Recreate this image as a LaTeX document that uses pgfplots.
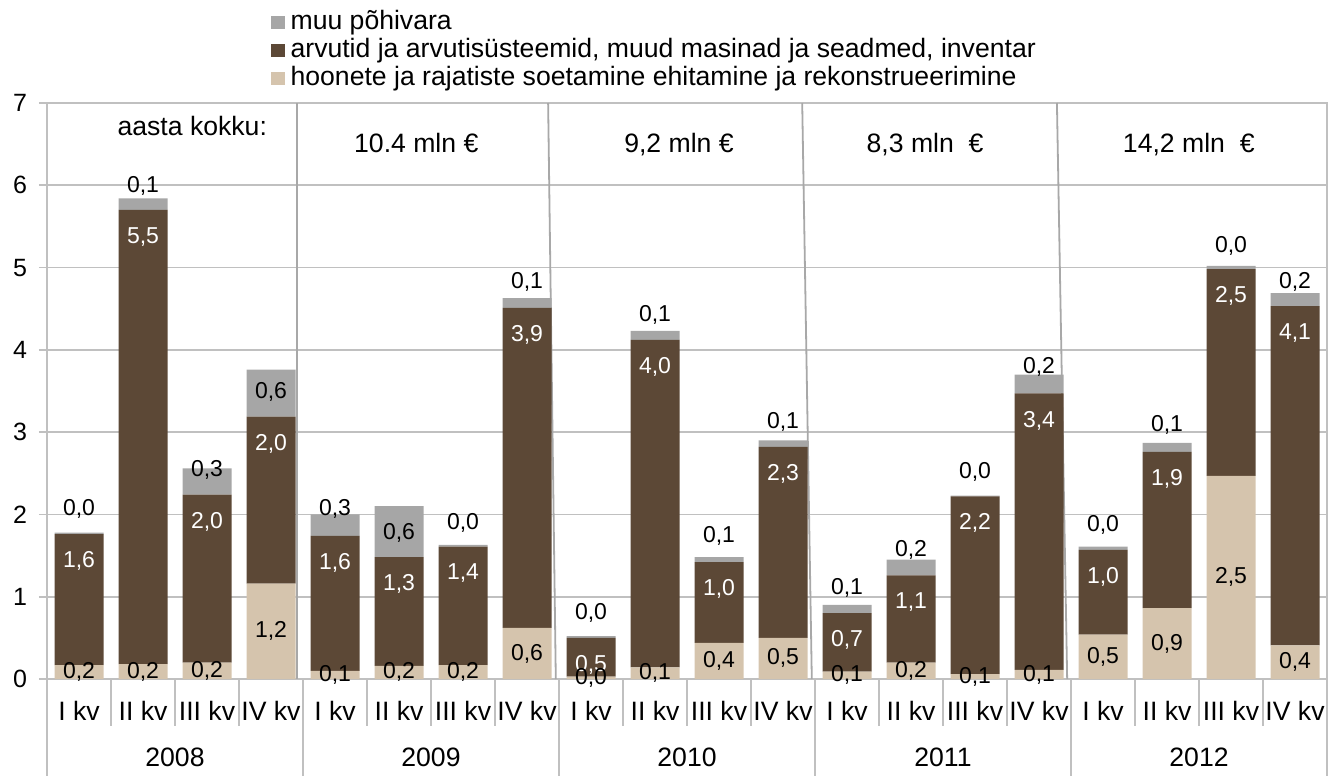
\documentclass[border=0pt]{standalone}
\usepackage{pgfplots}
\pgfplotsset{compat=1.18}
\usepackage{pgfplotstable}
\usepackage{fontspec}
\setmainfont{Liberation Sans}
\definecolor{cbeige}{HTML}{D5C4AD}
\definecolor{cbrown}{HTML}{5C4836}
\definecolor{cgray}{HTML}{A6A6A6}
\definecolor{cgrid}{HTML}{C0C0C0}
\definecolor{cline}{HTML}{A8A8A8}
\newcommand\fA{\fontsize{13.3}{16}\selectfont}
\newcommand\fT{\fontsize{12.5}{15}\selectfont}
\newcommand\fL{\fontsize{11.5}{13}\selectfont}

% x: category, b: hoonete..., r: arvutid..., g: muu pohivara, gs: label offset of g above its top (pt)
\pgfplotstableread{
x b r g gs
0 0.17 1.59 0.02 12
1 0.18 5.52 0.14 6.5
2 0.20 2.04 0.32 -1
3 1.16 2.03 0.57 -11
4 0.10 1.64 0.26 2.5
5 0.16 1.32 0.62 -13.5
6 0.17 1.44 0.02 11
7 0.62 3.89 0.12 8
8 0.03 0.47 0.02 11.5
9 0.14 3.98 0.11 8
10 0.44 0.98 0.06 10.5
11 0.50 2.32 0.08 9
12 0.09 0.71 0.10 8.5
13 0.20 1.06 0.19 5
14 0.06 2.16 0.01 12
15 0.11 3.36 0.23 4
16 0.54 1.03 0.04 11
17 0.86 1.90 0.11 9
18 2.47 2.51 0.04 10
19 0.41 4.12 0.16 5.5
}\data

\begin{document}
\begin{tikzpicture}
\begin{axis}[
  scale only axis, width=640pt, height=288pt,
  xmin=-0.5, xmax=19.5, ymin=0, ymax=7,
  clip=false,
  ybar stacked, bar width=24.5pt,
  axis line style={cgrid, line width=0.9pt},
  ymajorgrids, grid style={cgrid, line width=0.9pt},
  ytick={0,...,7}, ytick pos=left, tick align=outside, major tick length=4pt,
  every tick/.style={cgrid, line width=0.9pt},
  xtick={0,...,19}, xtick pos=bottom,
  every major x tick/.append style={draw=none},
  xticklabels={I kv,II kv,III kv,IV kv,I kv,II kv,III kv,IV kv,I kv,II kv,III kv,IV kv,I kv,II kv,III kv,IV kv,I kv,II kv,III kv,IV kv},
  xticklabel style={font=\fA, anchor=base, yshift=-16.75pt},
  yticklabel style={font=\fT, xshift=-2.5pt},
  /pgf/number format/assume math mode=true,
  legend image code/.code={\fill[#1] (0pt,-3.3pt) rectangle (6.6pt,3.3pt);},
  reverse legend,
  legend style={at={(0.175,1.165)}, anchor=north west, draw=none, fill=none,
    inner sep=0pt, row sep=0pt, column sep=2.5pt, font=\fA,
    nodes={inner sep=0.5pt, text height=10pt, text depth=3pt}},
  legend cell align=left,
  nodes near coords={\pgfmathprintnumber[fixed,fixed zerofill,precision=1,use comma]{\pgfplotspointmeta}},
]
\addplot[fill=cbeige, draw=none,
  every node near coord/.append style={anchor=center, font=\fL, text=black, inner sep=0pt}]
  table[x=x, y=b, meta=b] {\data};
\addlegendentry{hoonete ja rajatiste soetamine ehitamine ja rekonstrueerimine}
\addplot[fill=cbrown, draw=none,
  visualization depends on={\thisrow{r} \as \rval},
  every node near coord/.append style={anchor=center, yshift={20.571pt*\rval-13.5pt}, font=\fL, text=white, inner sep=0pt}]
  table[x=x, y=r, meta=r] {\data};
\addlegendentry{arvutid ja arvutisüsteemid, muud masinad ja seadmed, inventar}
\addplot[fill=cgray, draw=none,
  visualization depends on={\thisrow{gs} \as \gsh},
  visualization depends on={\thisrow{g} \as \gval},
  every node near coord/.append style={anchor=center, yshift={20.571pt*\gval+\gsh*1pt}, font=\fL, text=black, inner sep=0pt}]
  table[x=x, y=g, meta=g] {\data};
\addlegendentry{muu põhivara}

% year dividers inside the plot
\draw[cline, line width=0.9pt] (axis cs:3.41,7) -- (axis cs:3.41,0);
\draw[cline, line width=0.9pt] (axis cs:7.33,7) -- (axis cs:7.45,0);
\draw[cline, line width=0.9pt] (axis cs:11.30,7) -- (axis cs:11.45,0);
\draw[cline, line width=0.9pt] (axis cs:15.28,7) -- (axis cs:15.44,0);

% category separators below the axis
\pgfplotsinvokeforeach{0.5,1.5,2.5,4.5,5.5,6.5,8.5,9.5,10.5,12.5,13.5,14.5,16.5,17.5,18.5}{
  \draw[cgrid, line width=0.9pt] (axis cs:#1,0) -- ++(0pt,-23.5pt);
}
\pgfplotsinvokeforeach{-0.5,3.5,7.5,11.5,15.5,19.5}{
  \draw[cgrid, line width=0.9pt] (axis cs:#1,0) -- ++(0pt,-48.5pt);
}

% year labels
\node[font=\fA, anchor=base, yshift=-43.75pt] at (axis cs:1.5,0) {2008};
\node[font=\fA, anchor=base, yshift=-43.75pt] at (axis cs:5.5,0) {2009};
\node[font=\fA, anchor=base, yshift=-43.75pt] at (axis cs:9.5,0) {2010};
\node[font=\fA, anchor=base, yshift=-43.75pt] at (axis cs:13.5,0) {2011};
\node[font=\fA, anchor=base, yshift=-43.75pt] at (axis cs:17.5,0) {2012};

% yearly totals
\node[font=\fA, anchor=base] at (axis cs:1.77,6.61) {aasta kokku:};
\node[font=\fA, anchor=base] at (axis cs:5.27,6.40) {10.4 mln €};
\node[font=\fA, anchor=base] at (axis cs:9.375,6.40) {9,2 mln €};
\node[font=\fA, anchor=base] at (axis cs:13.22,6.40) {8,3 mln\ \ €};
\node[font=\fA, anchor=base] at (axis cs:17.34,6.40) {14,2 mln\ \ €};

\coordinate (bl) at (rel axis cs:0,0);
\coordinate (tr) at (rel axis cs:1,1);
\end{axis}
\pgfresetboundingbox
\path ([shift={(-23.5pt,-48.5pt)}]bl) rectangle ([shift={(7pt,51.5pt)}]tr);
\end{tikzpicture}
\end{document}
